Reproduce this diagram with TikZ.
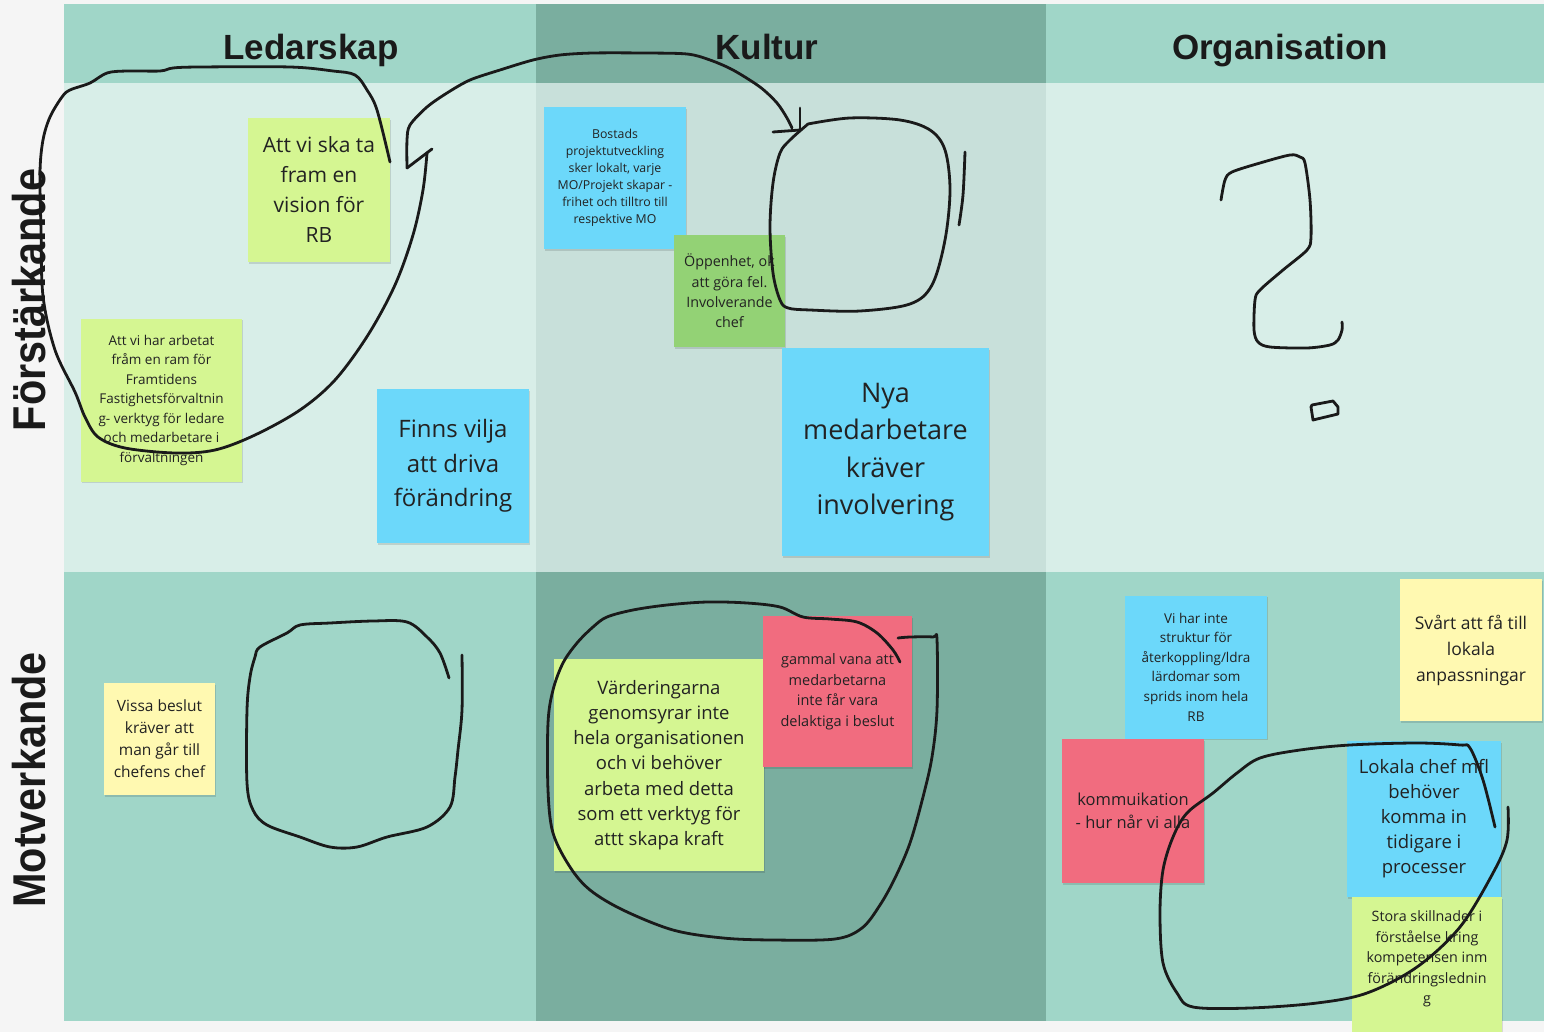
\documentclass[tikz,border=0pt]{standalone}
\usepackage{fontspec}
\setmainfont{Open Sans}
\newfontfamily\hdrfont{Liberation Sans}
\usetikzlibrary{shadows}
\definecolor{bgc}{HTML}{F5F5F5}
\definecolor{cellA}{HTML}{A0D6C8}
\definecolor{cellB}{HTML}{7AAE9F}
\definecolor{rowA}{HTML}{D8EEE8}
\definecolor{rowB}{HTML}{C8E0DA}
\definecolor{lime}{HTML}{D5F692}
\definecolor{skyb}{HTML}{6CD8FA}
\definecolor{leaf}{HTML}{93D275}
\definecolor{rose}{HTML}{F16C7F}
\definecolor{paley}{HTML}{FFF9B1}
\definecolor{inkc}{HTML}{1A1A1A}
\definecolor{notetext}{HTML}{222222}
\newcommand\fsz[2]{\fontsize{#1}{#2}\selectfont}
\tikzset{
  ink/.style={draw=inkc, line width=2.8pt, line cap=round, line join=round},
  note/.style={inner sep=0pt, align=center, text=notetext,
    general shadow={fill=black, opacity=0.12, shadow xshift=1.2pt, shadow yshift=-1.8pt}},
  hdrtxt/.style={font=\hdrfont\bfseries\fsz{35}{35}, text=inkc, anchor=base, inner sep=0pt},
  rowtxt/.style={font=\hdrfont\bfseries\fsz{46}{46}, text=inkc, anchor=base, rotate=90, inner sep=0pt}
}
\begin{document}
\begin{tikzpicture}[x=1pt,y=-1pt]
\useasboundingbox (0,0) rectangle (1544,1032);
\fill[bgc] (0,0) rectangle (1544,1032);
% header row
\fill[cellA] (64,4) rectangle (536,83);
\fill[cellB] (536,4) rectangle (1046,83);
\fill[cellA] (1046,4) rectangle (1544,83);
% row 1
\fill[rowA] (64,83) rectangle (536,572);
\fill[rowB] (536,83) rectangle (1046,572);
\fill[rowA] (1046,83) rectangle (1544,572);
% row 2
\fill[cellA] (64,572) rectangle (536,1021);
\fill[cellB] (536,572) rectangle (1046,1021);
\fill[cellA] (1046,572) rectangle (1544,1021);

\node[hdrtxt] (hL) at (311,60) {Ledarskap};
\node[hdrtxt] (hK) at (767,60) {Kultur};
\node[hdrtxt] (hO) at (1280,60) {Organisation};
\node[rowtxt] (rF) at (45,300) {\scalebox{0.9}[1]{Förstärkande}};
\node[rowtxt] (rM) at (45,780) {\scalebox{0.9}[1]{Motverkande}};

% notes
\node[note, fill=lime, minimum width=142pt, minimum height=144pt, font=\fsz{21}{30}] (n1) at (319,190) {Att vi ska ta\\fram en\\vision för\\RB};
\node[note, fill=lime, minimum width=161pt, minimum height=163pt, font=\fsz{13.5}{19.5}] (n2) at (161.5,400) {Att vi har arbetat\\fråm en ram för\\Framtidens\\Fastighetsförvaltnin\\g- verktyg för ledare\\och medarbetare i\\förvaltningen};
\node[note, fill=skyb, minimum width=152pt, minimum height=154pt, font=\fsz{24}{34.5}] (n3) at (453,466) {Finns vilja\\att driva\\förändring};
\node[note, fill=skyb, minimum width=142pt, minimum height=142pt, font=\fsz{12.3}{17}] (n4) at (615,178) {Bostads\\projektutveckling\\sker lokalt, varje\\MO/Projekt skapar -\\frihet och tilltro till\\respektive MO};
\node[note, fill=leaf, minimum width=111pt, minimum height=112pt, font=\fsz{14.3}{20.3}] (n5) at (729.5,291) {Öppenhet, ok\\att göra fel.\\Involverande\\chef};
\node[note, fill=skyb, minimum width=207pt, minimum height=208pt, font=\fsz{27}{37.3}] (n6) at (885.5,452) {Nya\\medarbetare\\kräver\\involvering};
\node[note, fill=paley, minimum width=111pt, minimum height=112pt, font=\fsz{15.5}{22}] (n7) at (159.5,739) {Vissa beslut\\kräver att\\man går till\\chefens chef};
\node[note, fill=lime, minimum width=210pt, minimum height=212pt, font=\fsz{18.5}{25.2}] (n8) at (659,765) {Värderingarna\\genomsyrar inte\\hela organisationen\\och vi behöver\\arbeta med detta\\som ett verktyg för\\attt skapa kraft};
\node[note, fill=rose, minimum width=149pt, minimum height=151pt, font=\fsz{14.5}{20.5}] (n9) at (837.5,691.5) {gammal vana att\\medarbetarna\\inte får vara\\delaktiga i beslut};
\node[note, fill=skyb, minimum width=142pt, minimum height=143pt, font=\fsz{13.5}{19.6}] (n10) at (1196,667) {Vi har inte\\struktur för\\återkoppling/ldra\\lärdomar som\\sprids inom hela\\RB};
\node[note, fill=rose, minimum width=142pt, minimum height=144pt, font=\fsz{16.5}{23}] (n11) at (1133,811) {kommuikation\\- hur når vi alla};
\node[note, fill=paley, minimum width=142pt, minimum height=142pt, font=\fsz{17.5}{26}] (n12) at (1471,650) {Svårt att få till\\lokala\\anpassningar};
\node[note, fill=skyb, minimum width=154pt, minimum height=156pt, font=\fsz{18.5}{25}] (n13) at (1424,819) {Lokala chef mfl\\behöver\\komma in\\tidigare i\\processer};
\node[note, fill=lime, minimum width=150pt, minimum height=150pt,
  label={[font=\fsz{14.3}{20.4}, text=notetext, align=center, inner sep=0pt, yshift=13pt]center:Stora skillnader i\\förståelse kring\\kompetensen inm\\förändringslednin\\g}] (n14) at (1427,972) {};

% hand-drawn strokes
% Ledarskap / Förstärkande loop
\draw[ink] plot[smooth, tension=0.55] coordinates {(390,162) (377,110) (367,90) (355,75) (333,71) (290,67) (200,67) (173,68) (160,71) (127,71) (107,73) (90,83) (70,90) (62,97) (50,117) (43,140) (40,172) (41,230) (43,296) (55,350) (75,392) (85,417) (98,437) (125,448) (175,453) (215,450) (255,435) (300,410) (335,380) (368,335) (395,285) (413,235) (423,190) (427,153)};
% arrow from Kultur loop to Ledarskap loop
\draw[ink] plot[smooth, tension=0.5] coordinates {(407,168) (407,140) (410,125) (427,107) (447,93) (470,80) (500,70) (533,60) (560,55) (593,53) (643,53) (687,54) (710,60) (733,70) (760,87) (777,103) (787,118) (792,128)};
\draw[ink] (407,168) -- (432,149);
\draw[ink] (800,108) -- (800,130);
\draw[ink] (773,132) -- (800,130);
% Kultur / Förstärkande loop
\draw[ink] plot[smooth, tension=0.55] coordinates {(808,124) (850,118) (900,120) (930,130) (945,150) (950,190) (945,240) (932,285) (910,304) (860,311) (810,310) (788,308) (780,300) (773,273) (770,227) (773,183) (780,153) (790,140) (808,124)};
\draw[ink] plot[smooth, tension=0.55] coordinates {(965,152) (963,195) (959,225)};
% question mark
\draw[ink] plot[smooth, tension=0.5] coordinates {(1221,200) (1225,180) (1232,172) (1260,163) (1290,155) (1300,157) (1305,163) (1310,200) (1311,237) (1307,250) (1283,270) (1260,290) (1255,300) (1254,330) (1258,342) (1270,347) (1307,348) (1330,345) (1338,340) (1342,330) (1342,322)};
\draw[ink] (1312,405) -- (1333,401) -- (1338,407) -- (1338,414) -- (1313,420) -- (1311,407) -- cycle;
% Ledarskap / Motverkande loop
\draw[ink] plot[smooth, tension=0.55] coordinates {(449,678) (440,653) (427,637) (407,622) (373,621) (330,623) (300,625) (287,633) (260,647) (255,657) (250,677) (247,710) (247,783) (253,810) (267,825) (300,837) (330,847) (357,847) (387,837) (427,827) (450,807) (455,777) (458,750) (462,710) (462,655)};
% Kultur / Motverkande loop
\draw[ink] plot[smooth, tension=0.55] coordinates {(900,662) (893,650) (877,633) (857,622) (830,619) (803,617) (780,607) (747,603) (707,602) (667,605) (633,610) (607,617) (593,627) (577,643) (563,663) (553,690) (548,723) (548,790) (553,833) (570,867) (590,890) (623,910) (673,930) (723,938) (773,940) (835,939) (862,928) (880,905) (895,878) (910,843) (923,797) (932,757) (937,710) (937,640) (933,637) (910,637) (898,638)};
% Organisation / Motverkande loop
\draw[ink] plot[smooth, tension=0.55] coordinates {(1495,827) (1483,780) (1470,748) (1460,745) (1417,743) (1350,745) (1300,750) (1260,758) (1237,773) (1213,793) (1187,813) (1173,837) (1163,870) (1160,913) (1163,963) (1177,993) (1193,1007) (1250,1008) (1317,1003) (1367,993) (1417,967) (1460,927) (1493,873) (1507,840) (1508,807)};
\end{tikzpicture}
\end{document}
